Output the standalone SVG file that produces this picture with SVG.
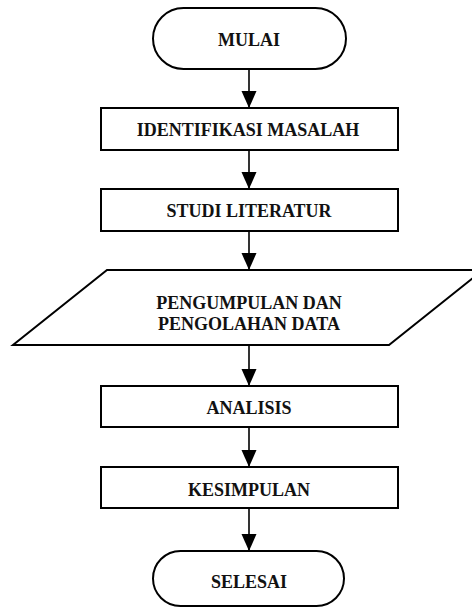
<svg xmlns="http://www.w3.org/2000/svg" width="472" height="608" viewBox="0 0 472 608">
<style>
.s{fill:#fff;stroke:#000;stroke-width:2}
.t{font-family:"Liberation Serif","Times New Roman",serif;font-weight:bold;font-size:18px;text-anchor:middle;fill:#111}
.c{stroke:#000;stroke-width:1.6;fill:none}
</style>
<defs>
<marker id="ah" markerUnits="userSpaceOnUse" markerWidth="18" markerHeight="18" viewBox="0 0 18 18" refX="17" refY="9" orient="auto">
<path d="M0,1.5 L17,9 L0,16.5 Z" fill="#000"/>
</marker>
</defs>
<rect width="472" height="608" fill="#fff"/>
<g id="connectors">
<line class="c" x1="249" y1="69" x2="249" y2="108" marker-end="url(#ah)"/>
<line class="c" x1="249" y1="150" x2="249" y2="189" marker-end="url(#ah)"/>
<line class="c" x1="249" y1="231" x2="249" y2="270" marker-end="url(#ah)"/>
<line class="c" x1="249" y1="345" x2="249" y2="386" marker-end="url(#ah)"/>
<line class="c" x1="249" y1="427" x2="249" y2="467" marker-end="url(#ah)"/>
<line class="c" x1="249" y1="508" x2="249" y2="551" marker-end="url(#ah)"/>
</g>
<g id="mulai">
<rect class="s" x="153" y="8" width="193" height="61" rx="30.5"/>
<text class="t" x="249" y="46">MULAI</text>
</g>
<g id="identifikasi">
<rect class="s" x="101" y="108" width="297" height="42"/>
<text class="t" x="248" y="136">IDENTIFIKASI MASALAH</text>
</g>
<g id="studi">
<rect class="s" x="101" y="189" width="297" height="42"/>
<text class="t" x="249" y="217">STUDI LITERATUR</text>
</g>
<g id="pengumpulan">
<polygon class="s" points="107,270 483,270 389,345 13,345"/>
<text class="t" x="249" y="309">PENGUMPULAN DAN</text>
<text class="t" x="249" y="329.5">PENGOLAHAN DATA</text>
</g>
<g id="analisis">
<rect class="s" x="101" y="386" width="297" height="41"/>
<text class="t" x="249" y="414">ANALISIS</text>
</g>
<g id="kesimpulan">
<rect class="s" x="101" y="467" width="297" height="41"/>
<text class="t" x="249" y="496">KESIMPULAN</text>
</g>
<g id="selesai">
<rect class="s" x="153" y="551" width="191" height="55" rx="27.5"/>
<text class="t" x="249" y="588">SELESAI</text>
</g>
</svg>
